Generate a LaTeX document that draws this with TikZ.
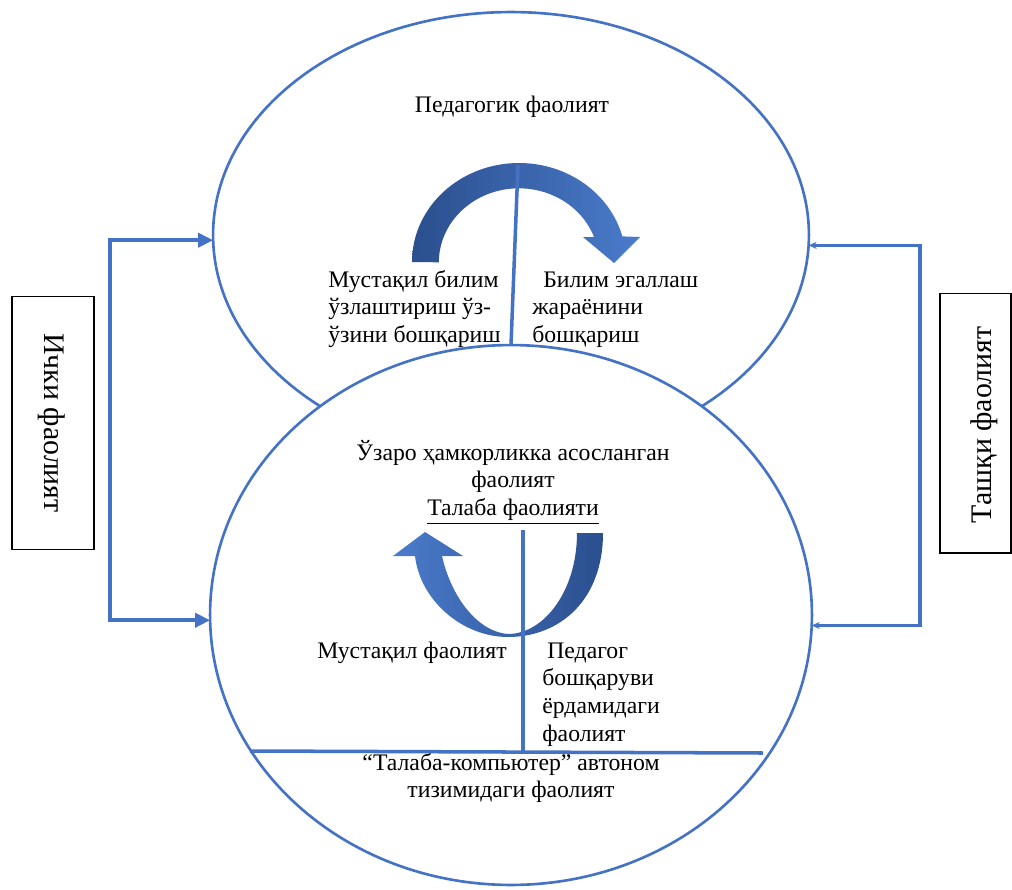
\documentclass[tikz,border=0pt]{standalone}
\usepackage{fontspec}
\setmainfont{Liberation Serif}
\usetikzlibrary{shapes.geometric,arrows.meta}
\definecolor{lineblue}{HTML}{4472C4}
\definecolor{arrdark}{HTML}{2B4F8E}
\definecolor{arrlight}{HTML}{4A7BCB}
\begin{document}
\begin{tikzpicture}[x=0.02cm,y=-0.02cm,
  ell/.style={ellipse, draw=lineblue, line width=1.5pt, fill=white, inner sep=0pt, outer sep=0pt},
  conn/.style={draw=lineblue, line width=2.1pt},
  sidebox/.style={draw=black, line width=0.6pt, inner sep=0pt},
  sidetxt/.style={inner sep=0pt, font=\fontsize{17}{20}\selectfont},
  txt/.style={inner sep=0pt, font=\fontsize{13.5}{15.8}\selectfont},
  divline/.style={draw=lineblue, line width=2pt}
]
\useasboundingbox (0,0) rectangle (1012,890);

% ellipses
\node[ell, minimum width=11.92cm, minimum height=8.92cm] (topE) at (511,235) {};
\node[ell, minimum width=12.04cm, minimum height=10.8cm] (botE) at (511,615) {};

% side boxes
\node[sidebox, minimum width=1.64cm, minimum height=5.06cm] (innerbox) at (53,423) {};
\node[sidetxt, rotate=-90] (inner) at (52,423) {Ички фаолият};
\node[sidebox, minimum width=1.42cm, minimum height=5.2cm] (outerbox) at (975.5,423) {};
\node[sidetxt, rotate=90] (outer) at (984,425) {Ташқи фаолият};

% connectors
\coordinate (lbar) at (110,430);
\coordinate (rbar) at (920,430);
\draw[conn, {Triangle[length=0.3cm,width=0.28cm]}-{Triangle[length=0.3cm,width=0.28cm]}]
  (topE.181.3) -| (lbar) |- (botE.181.3);
\draw[conn, {Stealth[length=0.16cm,width=0.14cm]}-{Stealth[length=0.16cm,width=0.14cm]}]
  (topE.358.7) -| (rbar) |- (botE.358.7);

% curved arrows
\shade[left color=arrdark, right color=arrlight]
  (412,262) arc[start angle=180, end angle=345, x radius=107, y radius=99]
  -- (640,237) -- (614,263) -- (583,237) -- (594,237)
  arc[start angle=340, end angle=180, x radius=80, y radius=74] -- cycle;
\shade[left color=arrlight, right color=arrdark]
  (603,533) .. controls (603,600) and (560,637) .. (508,637)
  .. controls (462,637) and (420,600) .. (415,556)
  -- (393,556) -- (425,532) -- (463,556) -- (442,556)
  .. controls (452,600) and (480,633) .. (509,634)
  .. controls (545,633) and (577,590) .. (577,533) -- cycle;

% divider lines
\coordinate (tv) at (518,165);
\coordinate (bv) at (523,530);
\coordinate (hl1) at (250,751);
\coordinate (hl2) at (763,753);
\draw[divline] (tv) -- (botE.north);
\draw[divline] (hl1) -- (hl2);
\draw[divline] (bv) -- (bv |- hl1);

% texts
\node[txt, anchor=base] (ped) at (512,112) {Педагогик фаолият};
\node[txt, anchor=base west] (selfman) at (328,287)
  {\begin{tabular}[t]{@{}l@{}}Мустақил билим\\ ўзлаштириш ўз-\\ ўзини бошқариш\end{tabular}};
\node[txt, anchor=base west] (procman) at (532,287)
  {\begin{tabular}[t]{@{}l@{}}\hspace{0.22cm}Билим эгаллаш\\ жараёнини\\ бошқариш\end{tabular}};
\node[txt, anchor=base] (coop) at (513,460)
  {\begin{tabular}[t]{@{}c@{}}Ўзаро ҳамкорликка асосланган\\ фаолият\\ \underline{Талаба фаолияти}\end{tabular}};
\node[txt, anchor=base west] (indep) at (317,658) {Мустақил фаолият};
\node[txt, anchor=base west] (pedman) at (542,658)
  {\begin{tabular}[t]{@{}l@{}}\hspace{0.1cm}Педагог\\ бошқаруви\\ ёрдамидаги\\ фаолият\end{tabular}};
\node[txt, anchor=base] (auto) at (511,770)
  {\begin{tabular}[t]{@{}c@{}}“Талаба-компьютер” автоном\\ тизимидаги фаолият\end{tabular}};
\end{tikzpicture}
\end{document}
